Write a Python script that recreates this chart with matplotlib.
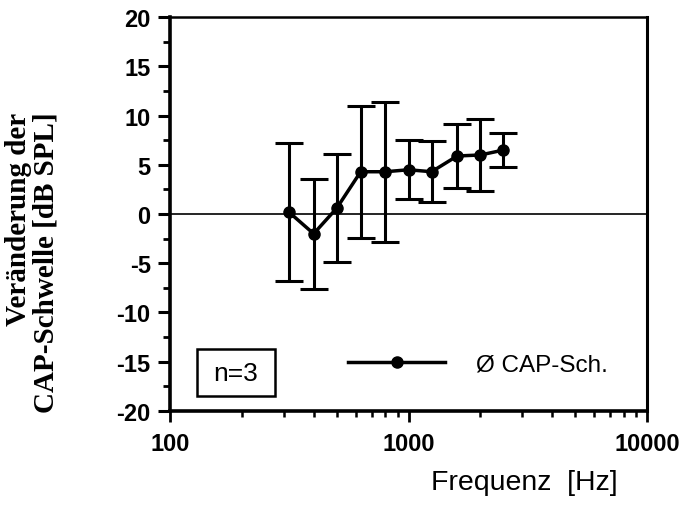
import matplotlib
matplotlib.use("Agg")
import matplotlib.pyplot as plt
from matplotlib.patches import Rectangle
from matplotlib.ticker import FixedLocator, LogLocator, NullFormatter

# Frequenzen (Terzmitten) und mittlere Veränderung der CAP-Schwelle
freqs = [315, 400, 500, 630, 800, 1000, 1250, 1600, 2000, 2500]
mean_shift = [0.2, -2.0, 0.6, 4.3, 4.3, 4.5, 4.3, 5.9, 6.0, 6.5]
std_shift = [7.0, 5.6, 5.5, 6.7, 7.1, 3.0, 3.1, 3.3, 3.7, 1.7]

y_ticks = [-20, -15, -10, -5, 0, 5, 10, 15, 20]
x_ticks = [100, 1000, 10000]

plt.rcParams["font.family"] = ["Liberation Sans", "DejaVu Sans"]

fig = plt.figure(figsize=(6.86, 5.06), dpi=100)
ax = fig.add_axes([0.248, 0.186, 0.695, 0.778])

# Nulllinie
ax.axhline(0, color="black", lw=1.2, zorder=1)

# Fehlerbalken
ax.errorbar(freqs, mean_shift, yerr=std_shift, fmt="none", ecolor="black",
            elinewidth=2.2, capsize=10, capthick=2.2, zorder=2)
(line,) = ax.plot(freqs, mean_shift, "-o", color="black", lw=2.5,
                  markersize=8, zorder=3, label="Ø CAP-Sch.")

ax.set_xscale("log")
ax.set_xlim(100, 10000)
ax.set_ylim(-20, 20)

ax.xaxis.set_major_locator(FixedLocator(x_ticks))
ax.xaxis.set_minor_locator(LogLocator(base=10, subs=range(2, 10)))
ax.xaxis.set_minor_formatter(NullFormatter())
ax.set_xticklabels([str(t) for t in x_ticks])
ax.yaxis.set_major_locator(FixedLocator(y_ticks))
ax.yaxis.set_minor_locator(FixedLocator([v + 2.5 for v in y_ticks[:-1]]))
ax.set_yticklabels([str(t) for t in y_ticks])

for lab in ax.get_xticklabels() + ax.get_yticklabels():
    lab.set_fontweight("bold")
    lab.set_fontsize(17)

ax.tick_params(axis="y", which="major", direction="out", length=9, width=2.2, pad=5)
ax.tick_params(axis="y", which="minor", direction="out", length=5, width=2.0)
ax.tick_params(axis="x", which="major", direction="out", length=8, width=2.0, pad=7)
ax.tick_params(axis="x", which="minor", direction="out", length=4, width=1.8)

ax.spines["left"].set_linewidth(2.6)
ax.spines["bottom"].set_linewidth(2.6)
ax.spines["top"].set_linewidth(1.8)
ax.spines["right"].set_linewidth(2.2)

# Legende
ax.legend(handles=[line], loc="center left", bbox_to_anchor=(0.373, 0.117),
          frameon=False, fontsize=17.5, handlelength=4.0, handletextpad=1.25,
          borderpad=0, borderaxespad=0, numpoints=1)

# n=3 Kasten
ax.add_patch(Rectangle((0.057, 0.037), 0.163, 0.12, transform=ax.transAxes,
                       facecolor="white", edgecolor="black", lw=1.8, zorder=4))
ax.text(0.138, 0.097, "n=3", transform=ax.transAxes, fontsize=19,
        ha="center", va="center", zorder=5)

# Achsenbeschriftungen
fig.text(0.765, 0.046, "Frequenz  [Hz]", fontsize=20.5, ha="center", va="center")
fig.text(0.047, 0.48, "Veränderung der\nCAP-Schwelle [dB SPL]",
         rotation=90, ha="center", va="center", multialignment="right",
         fontsize=21, fontweight="bold", linespacing=1.05,
         family=["Liberation Serif", "DejaVu Serif"])

fig.savefig("out.png", dpi=100)
